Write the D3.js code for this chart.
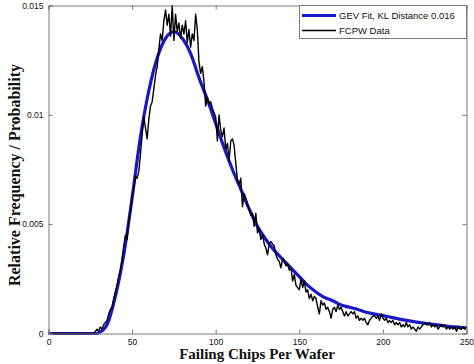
<!DOCTYPE html>
<html>
<head>
<meta charset="utf-8">
<script src="https://cdn.jsdelivr.net/npm/d3@7/dist/d3.min.js"></script>
<style>
  html, body { margin: 0; padding: 0; background: #fff; }
  svg { display: block; }
</style>
</head>
<body>
<svg id="chart" width="474" height="364"></svg>
<script>
// ---- Data ----
const xTicks = [0, 50, 100, 150, 200, 250];
const yTicks = [0, 0.005, 0.01, 0.015];
const yTickLabels = ["0", "0.005", "0.01", "0.015"];
const legendLabels = ["GEV Fit, KL Distance 0.016", "FCPW Data"];

// GEV fit (every 5 chips)
const gevX = [0,5,10,15,20,25,29,30,32,35,40,45,50,55,60,65,70,75,80,85,90,95,100,105,110,115,120,125,130,135,140,145,150,155,160,165,170,175,180,185,190,195,200,205,210,215,220,225,230,235,240,245,250];
const gevY = [0,0,0,0,0,0,0,0.00003,0.00012,0.0004,0.0017,0.0036,0.0062,0.0090,0.0111,0.0126,0.0135,0.0138,0.0135,0.0128,0.0117,0.0107,0.0096,0.0085,0.0075,0.0066,0.0057,0.0049,0.0043,0.0038,0.0034,0.0030,0.0026,0.0022,0.0019,0.00165,0.0015,0.0013,0.0012,0.0011,0.00097,0.00089,0.00082,0.00074,0.00066,0.00059,0.00052,0.00047,0.00042,0.00037,0.00032,0.00029,0.00026];

// FCPW data: one value per chip count 0..250
const fcpwY = [
0,0,0,0,0,0,0,0,0,0,
0,0,0,0,0,0,0,0,0,0,
0,0,0,0,0,0,0,0,0.0001,0.0002,
0.0001,0.0003,0.0002,0.0004,0.0005,0.0006,0.0009,0.0011,0.0012,0.0016,
0.0019,0.0022,0.0026,0.0029,0.0034,0.0040,0.0045,0.0043,0.0052,0.0056,
0.0062,0.0066,0.0072,0.0071,0.0074,0.0082,0.0091,0.0099,0.0094,0.0089,
0.0098,0.0104,0.0106,0.0112,0.0118,0.0122,0.0130,0.0137,0.0134,0.0143,
0.0148,0.0141,0.0146,0.0136,0.0150,0.0134,0.0146,0.0138,0.0142,0.0135,
0.0141,0.0137,0.0143,0.0133,0.0139,0.0131,0.0137,0.0134,0.0146,0.0139,
0.0124,0.0119,0.0122,0.0115,0.0104,0.0108,0.0105,0.0106,0.0103,0.0101,
0.0099,0.0088,0.0100,0.0093,0.0090,0.0094,0.0084,0.0087,0.0079,0.0088,
0.0089,0.0086,0.0078,0.0070,0.0068,0.0071,0.0058,0.0064,0.0062,0.0059,
0.0057,0.0054,0.0055,0.0049,0.0055,0.0046,0.0048,0.0043,0.0045,0.0041,
0.0039,0.0036,0.0041,0.0042,0.0041,0.0040,0.0036,0.0034,0.0033,0.0030,
0.0034,0.0033,0.0031,0.0032,0.0029,0.0030,0.0024,0.0027,0.0022,0.0021,
0.0020,0.0025,0.0021,0.0024,0.0019,0.0020,0.0016,0.0018,0.0015,0.0017,
0.0016,0.0012,0.0009,0.0015,0.0013,0.0014,0.0011,0.0012,0.0010,0.0007,
0.0011,0.0012,0.0010,0.0013,0.0011,0.0012,0.0010,0.0008,0.0010,0.0008,
0.0009,0.0010,0.0009,0.0010,0.0007,0.0008,0.0006,0.0007,0.0006,0.0007,
0.0005,0.0004,0.0006,0.0007,0.0008,0.0008,0.0007,0.0008,0.0006,0.0009,
0.0007,0.0006,0.0007,0.0005,0.0006,0.0005,0.0006,0.0004,0.0005,0.0004,
0.0005,0.0003,0.0004,0.0003,0.0005,0.0003,0.0004,0.0002,0.0003,0.0002,
0.0001,0.0003,0.0002,0.0003,0.0004,0.0005,0.0004,0.0004,0.0005,0.0003,
0.0004,0.0003,0.0004,0.0002,0.0003,0.0004,0.0003,0.0004,0.0002,0.0003,
0.0002,0.0003,0.0002,0.0003,0.0001,0.0003,0.0002,0.0002,0.0003,0.0002,
0.0003
];

// ---- Layout ----
const svg = d3.select("#chart");
const mLeft = 48.5, mRight = 466.5, mTop = 5.5, mBottom = 333.5;

const x = d3.scaleLinear().domain([0, 250]).range([mLeft, mRight]);
const y = d3.scaleLinear().domain([0, 0.015]).range([mBottom, mTop]);

const axisColor = "#7a7a7a";
const tickFont = "'Liberation Sans', Arial, sans-serif";

// Lines
const gevLine = d3.line()
  .x((d, i) => x(gevX[i]))
  .y(d => y(d))
  .curve(d3.curveMonotoneX);

svg.append("path")
  .datum(gevY)
  .attr("d", gevLine)
  .attr("fill", "none")
  .attr("stroke", "#1818c8")
  .attr("stroke-width", 3.2)
  .attr("stroke-linejoin", "round");

const dataLine = d3.line()
  .x((d, i) => x(i))
  .y(d => y(d));

svg.append("path")
  .datum(fcpwY)
  .attr("d", dataLine)
  .attr("fill", "none")
  .attr("stroke", "#000")
  .attr("stroke-width", 1.4)
  .attr("stroke-linejoin", "round");

// Axes (Matlab style: ticks inward, box)
const xAxis = svg.append("g")
  .attr("transform", `translate(0,${mBottom})`)
  .call(d3.axisBottom(x).tickValues(xTicks).tickSize(-4).tickPadding(5).tickFormat(d3.format("d")));
const xAxisTop = svg.append("g")
  .attr("transform", `translate(0,${mTop})`)
  .call(d3.axisTop(x).tickValues(xTicks).tickSize(-4).tickFormat(""));
const yAxis = svg.append("g")
  .attr("transform", `translate(${mLeft},0)`)
  .call(d3.axisLeft(y).tickValues(yTicks).tickSize(-4).tickPadding(5).tickFormat((d, i) => yTickLabels[i]));
const yAxisRight = svg.append("g")
  .attr("transform", `translate(${mRight},0)`)
  .call(d3.axisRight(y).tickValues(yTicks).tickSize(-4).tickFormat(""));

[xAxis, xAxisTop, yAxis, yAxisRight].forEach(g => {
  g.select(".domain").attr("stroke", axisColor).attr("stroke-width", 1);
  g.selectAll(".tick line").attr("stroke", axisColor);
  g.selectAll("text").attr("font-family", tickFont).attr("font-size", 8.5).attr("fill", "#111");
});

// Legend
const lg = svg.append("g");
lg.append("rect")
  .attr("x", 299.5).attr("y", mTop)
  .attr("width", mRight - 299.5).attr("height", 33)
  .attr("fill", "#fff").attr("stroke", axisColor).attr("stroke-width", 1);
const legendColors = ["#1818c8", "#000"];
const legendWidths = [3.2, 1.4];
legendLabels.forEach((lab, i) => {
  const ly = 15.5 + i * 15;
  lg.append("line")
    .attr("x1", 302).attr("x2", 336).attr("y1", ly).attr("y2", ly)
    .attr("stroke", legendColors[i]).attr("stroke-width", legendWidths[i]);
  lg.append("text")
    .attr("x", 339).attr("y", ly).attr("dy", "0.35em")
    .attr("font-family", tickFont).attr("font-size", 9.5).attr("fill", "#111")
    .text(lab);
});

// Axis titles
svg.append("text")
  .attr("x", 257).attr("y", 359)
  .attr("text-anchor", "middle")
  .attr("font-family", "'Liberation Serif', 'Times New Roman', serif")
  .attr("font-weight", "bold").attr("font-size", 15).attr("fill", "#111")
  .text("Failing Chips Per Wafer");

svg.append("text")
  .attr("transform", `translate(20,175) rotate(-90)`)
  .attr("text-anchor", "middle")
  .attr("font-family", "'Liberation Serif', 'Times New Roman', serif")
  .attr("font-weight", "bold").attr("font-size", 16).attr("fill", "#111")
  .text("Relative Frequency / Probability");
</script>
</body>
</html>
